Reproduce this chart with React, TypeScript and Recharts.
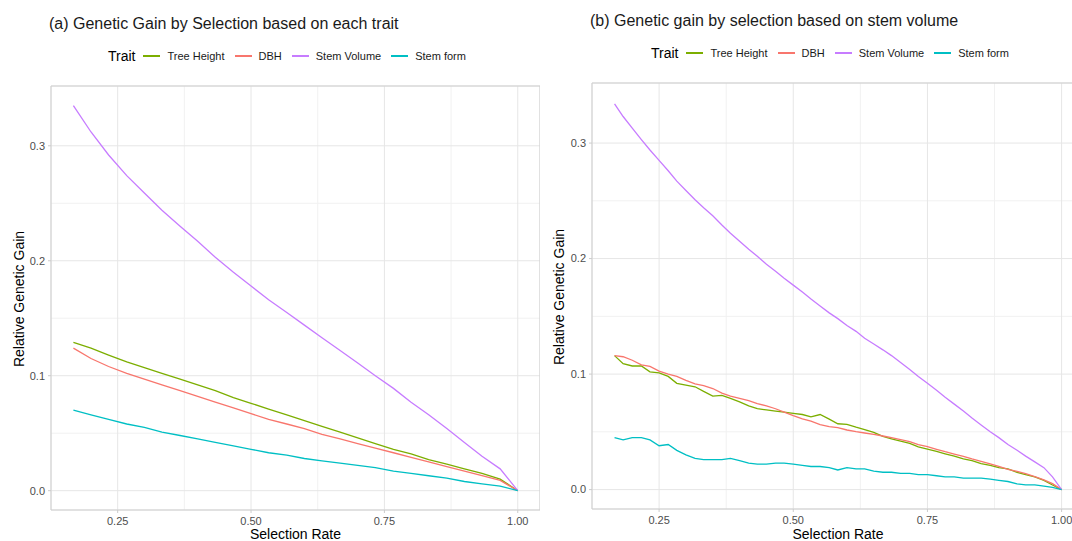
import { LineChart, Line, XAxis, YAxis, CartesianGrid, ReferenceArea } from "recharts";

const FONT = '"Liberation Sans", Arial, Helvetica, sans-serif';

const traits = ["Tree Height", "DBH", "Stem Volume", "Stem form"];
const traitKeys = ["height", "dbh", "volume", "form"];
const traitColors = ["#7CAE00", "#F8766D", "#C77CFF", "#00BFC4"];

// (a) selection on each trait
const rateA = [0.167, 0.2, 0.233, 0.267, 0.3, 0.333, 0.367, 0.4, 0.433, 0.467, 0.5, 0.533, 0.567, 0.6, 0.633, 0.667, 0.7, 0.733, 0.767, 0.8, 0.833, 0.867, 0.9, 0.933, 0.967, 1.0];
const heightA = [0.129, 0.124, 0.118, 0.112, 0.107, 0.102, 0.097, 0.092, 0.087, 0.081, 0.076, 0.071, 0.066, 0.061, 0.056, 0.051, 0.046, 0.041, 0.036, 0.032, 0.027, 0.023, 0.019, 0.015, 0.01, 0.0];
const dbhA = [0.124, 0.115, 0.108, 0.102, 0.097, 0.092, 0.087, 0.082, 0.077, 0.072, 0.067, 0.062, 0.058, 0.054, 0.049, 0.045, 0.041, 0.037, 0.033, 0.029, 0.025, 0.021, 0.017, 0.013, 0.009, 0.0];
const volumeA = [0.335, 0.312, 0.292, 0.274, 0.259, 0.244, 0.23, 0.217, 0.203, 0.19, 0.178, 0.166, 0.155, 0.144, 0.133, 0.122, 0.111, 0.1, 0.089, 0.077, 0.066, 0.054, 0.042, 0.03, 0.019, 0.0];
const formA = [0.07, 0.066, 0.062, 0.058, 0.055, 0.051, 0.048, 0.045, 0.042, 0.039, 0.036, 0.033, 0.031, 0.028, 0.026, 0.024, 0.022, 0.02, 0.017, 0.015, 0.013, 0.011, 0.008, 0.006, 0.004, 0.0];

// (b) selection on stem volume
const rateB = [0.167, 0.183, 0.2, 0.217, 0.233, 0.25, 0.267, 0.283, 0.3, 0.317, 0.333, 0.35, 0.367, 0.383, 0.4, 0.417, 0.433, 0.45, 0.467, 0.483, 0.5, 0.517, 0.533, 0.55, 0.567, 0.583, 0.6, 0.617, 0.633, 0.65, 0.667, 0.683, 0.7, 0.717, 0.733, 0.75, 0.767, 0.783, 0.8, 0.817, 0.833, 0.85, 0.867, 0.883, 0.9, 0.917, 0.933, 0.95, 0.967, 0.983, 1.0];
const heightB = [0.116, 0.109, 0.107, 0.107, 0.102, 0.101, 0.098, 0.092, 0.0905, 0.089, 0.085, 0.081, 0.0815, 0.079, 0.076, 0.0725, 0.07, 0.069, 0.068, 0.067, 0.066, 0.065, 0.063, 0.065, 0.061, 0.057, 0.0565, 0.054, 0.052, 0.0496, 0.046, 0.044, 0.042, 0.04, 0.037, 0.035, 0.033, 0.031, 0.029, 0.0265, 0.025, 0.0225, 0.021, 0.019, 0.018, 0.015, 0.013, 0.011, 0.008, 0.004, 0.0];
const dbhB = [0.116, 0.115, 0.112, 0.108, 0.1066, 0.1025, 0.1, 0.098, 0.0945, 0.0915, 0.09, 0.0875, 0.0835, 0.081, 0.079, 0.077, 0.0745, 0.0725, 0.07, 0.067, 0.064, 0.0612, 0.0592, 0.0563, 0.0545, 0.0537, 0.0516, 0.0501, 0.049, 0.0478, 0.0464, 0.0449, 0.0432, 0.0415, 0.0389, 0.0372, 0.0349, 0.0328, 0.0308, 0.0288, 0.0265, 0.0245, 0.0222, 0.0202, 0.0176, 0.0158, 0.0138, 0.0112, 0.0084, 0.0052, 0.0];
const volumeB = [0.334, 0.323, 0.313, 0.303, 0.294, 0.285, 0.276, 0.267, 0.259, 0.251, 0.244, 0.237, 0.229, 0.222, 0.215, 0.208, 0.202, 0.195, 0.189, 0.183, 0.177, 0.171, 0.165, 0.159, 0.153, 0.148, 0.142, 0.137, 0.131, 0.126, 0.121, 0.116, 0.11, 0.104, 0.098, 0.092, 0.086, 0.08, 0.074, 0.068, 0.062, 0.056, 0.05, 0.045, 0.039, 0.034, 0.029, 0.024, 0.019, 0.011, 0.0];
const formB = [0.045, 0.043, 0.045, 0.045, 0.043, 0.038, 0.039, 0.034, 0.03, 0.027, 0.026, 0.026, 0.026, 0.027, 0.025, 0.023, 0.022, 0.022, 0.023, 0.023, 0.022, 0.021, 0.02, 0.02, 0.019, 0.017, 0.019, 0.018, 0.018, 0.016, 0.015, 0.015, 0.014, 0.014, 0.013, 0.013, 0.012, 0.011, 0.011, 0.01, 0.01, 0.01, 0.009, 0.008, 0.007, 0.005, 0.004, 0.004, 0.003, 0.002, 0.0];

const xMajor = [0.25, 0.5, 0.75, 1.0];
const xMinor = [0.375, 0.625, 0.875];
const yMajor = [0, 0.1, 0.2, 0.3];
const yMinor = [0.05, 0.15, 0.25];
const xDomain = [0.125, 1.0417];
const yDomain = [-0.0168, 0.352];

const buildRows = (rate: number[], series: number[][]) =>
  rate.map((r, i) => {
    const row: Record<string, number> = { rate: r };
    traitKeys.forEach((k, j) => (row[k] = series[j][i]));
    return row;
  });

const dataA = buildRows(rateA, [heightA, dbhA, volumeA, formA]);
const dataB = buildRows(rateB, [heightB, dbhB, volumeB, formB]);

const XTick = (props: any) => {
  const { x, y, payload } = props;
  return (
    <text x={x} y={y + 9.5} textAnchor="middle" fontSize={11} fill="#4d4d4d" fontFamily={FONT}>
      {Number(payload.value).toFixed(2)}
    </text>
  );
};

const YTick = (props: any) => {
  const { x, y, payload } = props;
  return (
    <text x={x - 1} y={y + 3.9} textAnchor="end" fontSize={11} fill="#4d4d4d" fontFamily={FONT}>
      {Number(payload.value).toFixed(1)}
    </text>
  );
};

function Panel({ data, width, top, yWidth, xHeight }: any) {
  return (
    <LineChart width={width} height={541} data={data} margin={{ top, right: 0, bottom: 0, left: 0 }}>
      <CartesianGrid stroke="#f1f1f1" verticalValues={xMinor} horizontalValues={yMinor} />
      <CartesianGrid stroke="#e6e6e6" />
      <XAxis
        type="number"
        dataKey="rate"
        domain={xDomain}
        ticks={xMajor}
        allowDataOverflow
        height={xHeight}
        axisLine={false}
        tickSize={3}
        tickMargin={2}
        tickLine={{ stroke: "#cccccc" }}
        tick={<XTick />}
      />
      <YAxis
        type="number"
        domain={yDomain}
        ticks={yMajor}
        allowDataOverflow
        width={yWidth}
        axisLine={false}
        tickSize={3}
        tickMargin={2}
        tickLine={{ stroke: "#cccccc" }}
        tick={<YTick />}
      />
      {traitKeys.map((k, i) => (
        <Line
          key={k}
          type="linear"
          dataKey={k}
          stroke={traitColors[i]}
          strokeWidth={1.3}
          dot={false}
          isAnimationActive={false}
        />
      ))}
      <ReferenceArea
        x1={xDomain[0]}
        x2={xDomain[1]}
        y1={yDomain[0]}
        y2={yDomain[1]}
        fill="none"
        stroke="#cfcfcf"
        strokeWidth={1}
        ifOverflow="visible"
      />
    </LineChart>
  );
}

function TraitLegend({ left, top }: { left: number; top: number }) {
  return (
    <div
      style={{
        position: "absolute",
        left,
        top,
        display: "flex",
        alignItems: "center",
        lineHeight: "16px",
        fontFamily: FONT,
        whiteSpace: "nowrap",
      }}
    >
      <span style={{ fontSize: 14, color: "#000", marginRight: 8 }}>Trait</span>
      {traits.map((t, i) => (
        <span key={t} style={{ display: "flex", alignItems: "center", marginRight: 10 }}>
          <span style={{ width: 17, height: 0, borderTop: `2px solid ${traitColors[i]}`, marginRight: 7 }} />
          <span style={{ fontSize: 11, color: "#1a1a1a" }}>{t}</span>
        </span>
      ))}
    </div>
  );
}

const textAbs = (left: number, top: number, size: number): React.CSSProperties => ({
  position: "absolute",
  left,
  top,
  fontSize: size,
  lineHeight: `${size}px`,
  fontFamily: FONT,
  color: "#1a1a1a",
  whiteSpace: "nowrap",
});

const centered = (cx: number, cy: number, rotate = 0): React.CSSProperties => ({
  ...textAbs(cx, cy, 14),
  lineHeight: "10px",
  color: "#000",
  transform: `translate(-50%, -50%) rotate(${rotate}deg)`,
});

export default function App() {
  return (
    <div
      style={{
        position: "absolute",
        left: 0,
        top: 0,
        width: 1072,
        height: 541,
        overflow: "hidden",
        background: "#fff",
      }}
    >
      <div style={textAbs(49, 16, 16)}>(a) Genetic Gain by Selection based on each trait</div>
      <div style={textAbs(590, 13, 16)}>(b) Genetic gain by selection based on stem volume</div>
      <TraitLegend left={108} top={48} />
      <TraitLegend left={651} top={45} />

      <div style={{ position: "absolute", left: 0, top: 0 }}>
        <Panel data={dataA} width={540} top={86} yWidth={51} xHeight={31} />
      </div>
      <div style={{ position: "absolute", left: 540, top: 0 }}>
        <Panel data={dataB} width={544} top={83} yWidth={52} xHeight={32} />
      </div>

      <div style={centered(295.5, 534)}>Selection Rate</div>
      <div style={centered(838, 533.5)}>Selection Rate</div>
      <div style={centered(18.5, 299, -90)}>Relative Genetic Gain</div>
      <div style={centered(559, 296.5, -90)}>Relative Genetic Gain</div>
    </div>
  );
}
